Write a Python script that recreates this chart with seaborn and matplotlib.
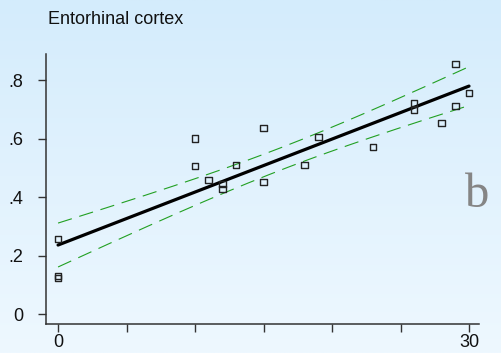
import numpy as np
import pandas as pd
import matplotlib
matplotlib.use("Agg")
import matplotlib.pyplot as plt
import seaborn as sns

# ---- data ----
age = [0, 0, 0, 10, 10, 11, 12, 12, 13, 15, 15, 18, 19, 23, 26, 26, 28, 29, 29, 30]
volume = [0.257, 0.130, 0.123, 0.600, 0.506, 0.458, 0.444, 0.427, 0.510, 0.636,
          0.451, 0.510, 0.605, 0.571, 0.720, 0.700, 0.653, 0.855, 0.711, 0.756]
title = "Entorhinal cortex"
panel_label = "b"
yticks = [0, 0.2, 0.4, 0.6, 0.8]
ytick_labels = ["0", ".2", ".4", ".6", ".8"]
xticks = [0, 5, 10, 15, 20, 25, 30]
xtick_labels = ["0", "", "", "", "", "", "30"]
t_crit = 2.101  # t(0.975, df=18)

df = pd.DataFrame({"age": age, "volume": volume})

# OLS fit and 95% CI of the mean
x = np.asarray(age, float)
y = np.asarray(volume, float)
n = len(x)
b1, b0 = np.polyfit(x, y, 1)
resid = y - (b0 + b1 * x)
s = np.sqrt(np.sum(resid ** 2) / (n - 2))
xg = np.linspace(x.min(), x.max(), 200)
yg = b0 + b1 * xg
se = s * np.sqrt(1 / n + (xg - x.mean()) ** 2 / np.sum((x - x.mean()) ** 2))
fit = pd.DataFrame({"age": xg, "fit": yg, "lo": yg - t_crit * se, "hi": yg + t_crit * se})

sns.set_theme(style="white")
plt.rcParams['font.family'] = ['Liberation Sans', 'DejaVu Sans']

W, H = 501, 353
fig = plt.figure(figsize=(W / 100, H / 100), dpi=100)

# gradient background
bg = fig.add_axes([0, 0, 1, 1], zorder=0)
top = np.array([0xd4, 0xec, 0xfc]) / 255
bot = np.array([0xee, 0xf8, 0xff]) / 255
tt = np.linspace(0, 1, 256)[:, None, None]
grad = top[None, None, :] * (1 - tt) + bot[None, None, :] * tt
grad = np.repeat(grad, 2, axis=1)
bg.imshow(grad, aspect="auto", extent=[0, 1, 0, 1], origin="upper")
bg.set_axis_off()

ax = fig.add_axes([46 / W, 29 / H, 433 / W, 270 / H], zorder=1)
ax.patch.set_alpha(0)

sns.lineplot(data=fit, x="age", y="hi", ax=ax, color="#22a022", lw=0.8,
             dashes=False, zorder=2)
sns.lineplot(data=fit, x="age", y="lo", ax=ax, color="#22a022", lw=0.8,
             dashes=False, zorder=2)
for ln in ax.lines:
    ln.set_dashes((13, 7))
sns.lineplot(data=fit, x="age", y="fit", ax=ax, color="black", lw=2.3, zorder=3)
sns.scatterplot(data=df, x="age", y="volume", ax=ax, marker="s", s=22,
                facecolor="none", edgecolor="#222222", linewidth=1.0, zorder=4)

ax.set_xlim(-0.88, 30.73)
ax.set_ylim(-0.034, 0.889)
ax.set_xticks(xticks)
ax.set_xticklabels(xtick_labels)
ax.set_yticks(yticks)
ax.set_yticklabels(ytick_labels)
ax.set_xlabel("")
ax.set_ylabel("")
for side in ["top", "right"]:
    ax.spines[side].set_visible(False)
for side in ["left", "bottom"]:
    ax.spines[side].set_color("#333333")
    ax.spines[side].set_linewidth(1.1)
ax.tick_params(axis="both", direction="out", length=5.5, width=1.0,
               color="#333333", labelsize=13, labelcolor="#111111")
ax.tick_params(axis="y", pad=11)
ax.tick_params(axis="x", pad=2)
ax.tick_params(left=True, bottom=True)

fig.text(48 / W, 1 - 24 / H, title, fontsize=13, color="#111111",
         ha="left", va="baseline")
fig.text(465 / W, 1 - 207 / H, panel_label, fontsize=35, color="#858585",
         family=["Liberation Serif", "DejaVu Serif"], ha="left", va="baseline")

fig.savefig("out.png", dpi=100)
